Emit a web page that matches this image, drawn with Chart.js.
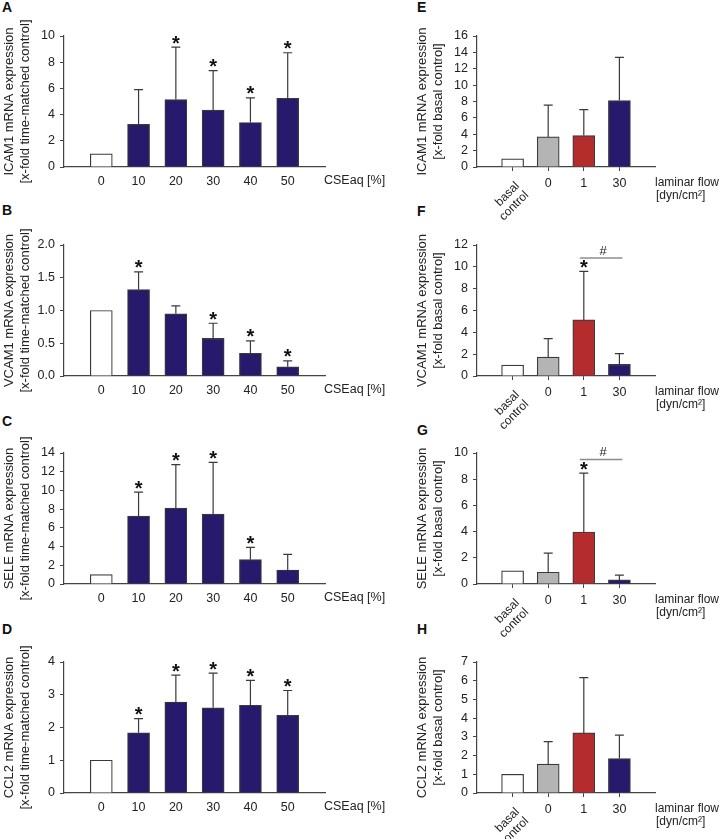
<!DOCTYPE html>
<html>
<head>
<meta charset="utf-8">
<script src="https://cdn.jsdelivr.net/npm/chart.js@4.4.1/dist/chart.umd.min.js"></script>
<style>
  body { margin: 0; background: #fff; width: 720px; height: 839px; position: relative; overflow: hidden; font-family: "Liberation Sans", Arial, sans-serif; }
  canvas { position: absolute; }
  .lbl { position: absolute; font-weight: bold; font-size: 14px; line-height: 14px; color: #111; }
</style>
</head>
<body>
<div class="lbl" style="left:2px;top:0px">A</div>
<div class="lbl" style="left:2px;top:203px">B</div>
<div class="lbl" style="left:2px;top:414px">C</div>
<div class="lbl" style="left:2px;top:622px">D</div>
<div class="lbl" style="left:417px;top:0px">E</div>
<div class="lbl" style="left:417px;top:204px">F</div>
<div class="lbl" style="left:417px;top:423px">G</div>
<div class="lbl" style="left:417px;top:622px">H</div>

<canvas id="cA" width="400" height="209" style="left:0;top:0"></canvas>
<canvas id="cB" width="400" height="209" style="left:0;top:209px"></canvas>
<canvas id="cC" width="400" height="209" style="left:0;top:417px"></canvas>
<canvas id="cD" width="400" height="209" style="left:0;top:626px"></canvas>
<canvas id="cE" width="320" height="225" style="left:400px;top:0"></canvas>
<canvas id="cF" width="320" height="225" style="left:400px;top:209px"></canvas>
<canvas id="cG" width="320" height="225" style="left:400px;top:417px"></canvas>
<canvas id="cH" width="320" height="225" style="left:400px;top:626px"></canvas>

<script>
// categorías
const cseLabels = ['0', '10', '20', '30', '40', '50'];
const flowLabels = ['basal control', '0', '1', '30'];

// CSEaq (media y DE)
const icamCse = [1.0, 3.25, 5.15, 4.35, 3.4, 5.25];
const icamCseSd = [0, 2.65, 4.0, 3.0, 1.88, 3.47];
const icamCseStar = [0, 0, 1, 1, 1, 1];

const vcamCse = [1.0, 1.32, 0.95, 0.575, 0.345, 0.14];
const vcamCseSd = [0, 0.27, 0.12, 0.23, 0.19, 0.09];
const vcamCseStar = [0, 1, 0, 1, 1, 1];

const seleCse = [1.0, 7.25, 8.12, 7.48, 2.6, 1.5];
const seleCseSd = [0, 2.57, 4.63, 5.52, 1.32, 1.67];
const seleCseStar = [0, 1, 1, 1, 1, 0];

const ccl2Cse = [1.0, 1.84, 2.78, 2.6, 2.68, 2.37];
const ccl2CseSd = [0, 0.43, 0.82, 1.06, 0.76, 0.76];
const ccl2CseStar = [0, 1, 1, 1, 1, 1];

// flujo laminar (media y DE)
const icamFlow = [1.0, 3.67, 3.84, 8.12];
const icamFlowSd = [0, 3.88, 3.16, 5.28];

const vcamFlow = [1.0, 1.74, 5.14, 1.07];
const vcamFlowSd = [0, 1.69, 4.44, 0.98];
const vcamFlowStar = [0, 0, 1, 0];

const seleFlow = [1.0, 0.9, 3.97, 0.31];
const seleFlowSd = [0, 1.46, 4.49, 0.36];
const seleFlowStar = [0, 0, 1, 0];

const ccl2Flow = [1.0, 1.54, 3.21, 1.84];
const ccl2FlowSd = [0, 1.21, 2.95, 1.25];

// barras de significancia: [desde, hasta, nivel y]
const vcamFlowSig = [2, 3, 10.8];
const seleFlowSig = [2, 3, 9.5];

const FONT = '"Liberation Sans", Arial, sans-serif';
const NAVY = '#27196b';
const cseColors = ['#ffffff', NAVY, NAVY, NAVY, NAVY, NAVY];
const flowColors = ['#ffffff', '#b4b4b4', '#b42c2c', NAVY];

// plugin: barras de error, asteriscos, etiquetas del eje x
function extras(p) {
  return {
    id: 'extras',
    afterDatasetsDraw(chart) {
      const ctx = chart.ctx;
      const xs = chart.scales.x, ys = chart.scales.y;
      const area = chart.chartArea;
      const meta = chart.getDatasetMeta(0);
      ctx.save();
      ctx.strokeStyle = '#3a3a3a';
      ctx.lineWidth = 1.2;
      ctx.fillStyle = '#111';
      meta.data.forEach((bar, i) => {
        const sd = p.sd[i];
        let top = bar.y;
        if (sd) {
          top = ys.getPixelForValue(p.values[i] + sd);
          ctx.beginPath();
          ctx.moveTo(bar.x, bar.y);
          ctx.lineTo(bar.x, top);
          ctx.moveTo(bar.x - 4.5, top);
          ctx.lineTo(bar.x + 4.5, top);
          ctx.stroke();
        }
        if (p.stars && p.stars[i]) {
          ctx.font = 'bold 20px ' + FONT;
          ctx.textAlign = 'center';
          ctx.textBaseline = 'alphabetic';
          const m = ctx.measureText('*');
          const cy = top - 7.5;
          ctx.fillText('*', bar.x, cy + (m.actualBoundingBoxAscent - m.actualBoundingBoxDescent) / 2);
        }
      });
      if (p.sig) {
        const y = ys.getPixelForValue(p.sig[2]);
        const x1 = xs.getPixelForValue(p.sig[0]) - 4;
        const x2 = xs.getPixelForValue(p.sig[1]) + 3;
        ctx.strokeStyle = '#8c8c8c';
        ctx.lineWidth = 1.5;
        ctx.beginPath();
        ctx.moveTo(x1, y);
        ctx.lineTo(x2, y);
        ctx.stroke();
        ctx.font = '13px ' + FONT;
        ctx.textAlign = 'center';
        ctx.textBaseline = 'middle';
        ctx.fillStyle = '#222';
        ctx.fillText('#', (x1 + x2) / 2 + 2, y - 7);
      }
      // título del eje x a la derecha
      ctx.fillStyle = '#222';
      ctx.textAlign = 'left';
      ctx.textBaseline = 'middle';
      if (p.flow) {
        ctx.font = '12px ' + FONT;
        ctx.fillText('laminar flow', area.right, area.bottom + 16);
        ctx.fillText('[dyn/cm\u00b2]', area.right + 1, area.bottom + 29);
        // etiqueta girada "basal control"
        const parts = p.labels[0].split(' ');
        ctx.save();
        ctx.translate(xs.getPixelForValue(0) + 5, area.bottom + 17);
        ctx.rotate(-Math.PI / 4);
        ctx.textAlign = 'right';
        parts.forEach((t, k) => ctx.fillText(t, 0, k * 13));
        ctx.restore();
      } else {
        ctx.font = '12.5px ' + FONT;
        ctx.fillText('CSEaq [%]', area.right - 1, area.bottom + 14);
      }
      ctx.restore();
    }
  };
}

function makePanel(id, p) {
  const canvas = document.getElementById(id);
  const n = p.labels.length;
  const leftW = p.flow ? 77 : 64;
  const rightPad = p.flow ? 65 : 75;
  const xAxisH = canvas.height - 167;
  return new Chart(canvas, {
    type: 'bar',
    data: {
      datasets: [{
        data: p.values.map((v, i) => ({ x: i, y: v })),
        backgroundColor: p.colors,
        borderColor: '#3a3a3a',
        borderWidth: 1.2,
        barThickness: 22
      }]
    },
    options: {
      responsive: false,
      animation: false,
      events: [],
      layout: { padding: { top: 36, right: rightPad, left: 0, bottom: 0 } },
      plugins: { legend: { display: false }, tooltip: { enabled: false } },
      scales: {
        x: {
          type: 'linear',
          min: -1,
          max: n,
          offset: false,
          border: { display: true, color: '#444', width: 1.2 },
          grid: {
            display: !!p.flow,
            offset: false,
            drawOnChartArea: false,
            drawTicks: !!p.flow,
            tickLength: 4,
            tickColor: (c) => (c.tick && c.tick.value >= 0 && c.tick.value < n) ? '#444' : 'rgba(0,0,0,0)'
          },
          ticks: {
            stepSize: 1,
            autoSkip: false,
            maxRotation: 0,
            minRotation: 0,
            padding: p.flow ? 5 : 7,
            color: '#222',
            font: { family: FONT, size: 12.5 },
            callback: (v) => {
              if (v < 0 || v >= n) return '';
              if (p.flow && v === 0) return '';
              return p.labels[v];
            }
          },
          afterFit: (s) => { s.height = xAxisH; }
        },
        y: {
          min: 0,
          max: p.max,
          border: { display: true, color: '#444', width: 1.2 },
          grid: { display: true, drawOnChartArea: false, drawTicks: true, tickLength: 4, color: '#444' },
          ticks: {
            stepSize: p.step,
            autoSkip: false,
            padding: 5,
            color: '#222',
            font: { family: FONT, size: 12.5 },
            callback: (v) => p.decimals ? v.toFixed(p.decimals) : v
          },
          title: {
            display: true,
            text: p.title,
            color: '#222',
            font: { family: FONT, size: 13 },
            padding: { top: p.flow ? 15 : 2, bottom: 0 }
          },
          afterFit: (s) => { s.width = leftW; }
        }
      }
    },
    plugins: [extras(p)]
  });
}

makePanel('cA', { labels: cseLabels, values: icamCse, sd: icamCseSd, stars: icamCseStar, colors: cseColors,
  max: 10, step: 2, title: ['ICAM1 mRNA expression', '[x-fold time-matched control]'] });
makePanel('cB', { labels: cseLabels, values: vcamCse, sd: vcamCseSd, stars: vcamCseStar, colors: cseColors,
  max: 2, step: 0.5, decimals: 1, title: ['VCAM1 mRNA expression', '[x-fold time-matched control]'] });
makePanel('cC', { labels: cseLabels, values: seleCse, sd: seleCseSd, stars: seleCseStar, colors: cseColors,
  max: 14, step: 2, title: ['SELE mRNA expression', '[x-fold time-matched control]'] });
makePanel('cD', { labels: cseLabels, values: ccl2Cse, sd: ccl2CseSd, stars: ccl2CseStar, colors: cseColors,
  max: 4, step: 1, title: ['CCL2 mRNA expression', '[x-fold time-matched control]'] });

makePanel('cE', { flow: true, labels: flowLabels, values: icamFlow, sd: icamFlowSd, colors: flowColors,
  max: 16, step: 2, title: ['ICAM1 mRNA expression', '[x-fold basal control]'] });
makePanel('cF', { flow: true, labels: flowLabels, values: vcamFlow, sd: vcamFlowSd, stars: vcamFlowStar, sig: vcamFlowSig,
  colors: flowColors, max: 12, step: 2, title: ['VCAM1 mRNA expression', '[x-fold basal control]'] });
makePanel('cG', { flow: true, labels: flowLabels, values: seleFlow, sd: seleFlowSd, stars: seleFlowStar, sig: seleFlowSig,
  colors: flowColors, max: 10, step: 2, title: ['SELE mRNA expression', '[x-fold basal control]'] });
makePanel('cH', { flow: true, labels: flowLabels, values: ccl2Flow, sd: ccl2FlowSd, colors: flowColors,
  max: 7, step: 1, title: ['CCL2 mRNA expression', '[x-fold basal control]'] });
</script>
</body>
</html>
